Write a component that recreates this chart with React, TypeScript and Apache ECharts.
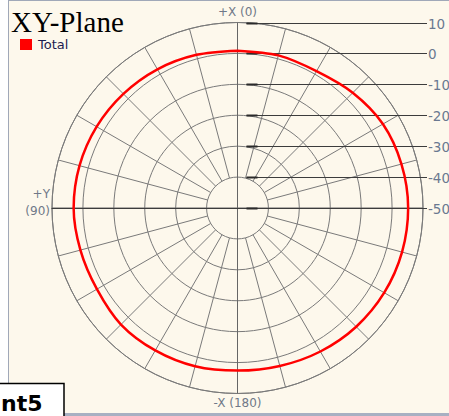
import React, { useEffect, useRef } from "react";
import * as echarts from "echarts";

// ---- data ----
const angles = [0, 15, 30, 45, 60, 75, 90, 105, 120, 135, 150, 165, 180, 195, 210, 225, 240, 255, 270, 285, 300, 315, 330, 345];
const totalDb = [0.9, 1.3, 1.8, 2.2, 2.6, 2.9, 3.0, 2.6, 2.5, 3.3, 3.2, 3.0, 2.6, 2.9, 3.6, 4.3, 4.8, 5.1, 5.2, 4.9, 4.3, 2.7, 1.1, 1.1];
const ringValues = [10, 0, -10, -20, -30, -40, -50];
const ringLabels = ["10", "0", "-10", "-20", "-30", "-40", "-50"];
const spokeAngles = [0, 15, 30, 45, 60, 75, 90, 105, 120, 135, 150, 165, 180, 195, 210, 225, 240, 255, 270, 285, 300, 315, 330, 345];
const rMin = -50;
const rMax = 10;
const rInner = -40;

export default function App() {
  const ref = useRef<HTMLDivElement>(null);
  useEffect(() => {
    if (!ref.current) return;
    const chart = echarts.init(ref.current, undefined, { renderer: "svg" });
    const lineData = angles.map((a, i) => [totalDb[i], a]);
    lineData.push([totalDb[0], 360]);
    const option: any = {
      animation: false,
      backgroundColor: "transparent",
      title: {
        text: "XY-Plane",
        left: 11,
        top: 9,
        padding: 0,
        textStyle: { fontFamily: "Liberation Serif", fontSize: 29, lineHeight: 26, fontWeight: "normal", color: "#000" },
      },
      legend: {
        data: ["Total"],
        left: 20,
        top: 38,
        icon: "rect",
        itemWidth: 12,
        itemHeight: 11,
        itemGap: 5,
        padding: 0,
        textStyle: { fontFamily: "DejaVu Sans", fontSize: 13, color: "#1c1c50", padding: [0, 0, 0, 1] },
      },
      polar: { center: [237.5, 208], radius: 185.5 },
      angleAxis: {
        type: "value",
        min: 0,
        max: 360,
        interval: 15,
        startAngle: 90,
        clockwise: false,
        axisLine: { show: true, lineStyle: { color: "#7a7a7a", width: 1 } },
        axisTick: { show: false },
        axisLabel: { show: false },
        splitLine: { show: false },
      },
      radiusAxis: {
        type: "value",
        min: rMin,
        max: rMax,
        interval: 10,
        axisLine: { show: false },
        axisTick: { show: false },
        axisLabel: { show: false },
        splitLine: { show: true, lineStyle: { color: "#7a7a7a", width: 1 } },
      },
      series: [
        {
          type: "custom",
          coordinateSystem: "polar",
          silent: true,
          data: spokeAngles.map((a) => [a % 90 === 0 ? rMin : rInner, a]),
          renderItem: (params: any, api: any) => {
            const r0 = api.value(0);
            const a = api.value(1);
            const p1 = api.coord([r0, a]);
            const p2 = api.coord([rMax, a]);
            const main = a % 90 === 0;
            return {
              type: "line",
              shape: { x1: p1[0], y1: p1[1], x2: p2[0], y2: p2[1] },
              style: { stroke: main ? "#666" : "#7a7a7a", lineWidth: 1 },
            };
          },
        },
        {
          type: "custom",
          coordinateSystem: "polar",
          silent: true,
          data: ringValues.map((v, i) => [v, 0, i]),
          renderItem: (params: any, api: any) => {
            const v = api.value(0);
            const i = api.value(2);
            const p = api.coord([v, 0]);
            const c = api.coord([rMin, 0]);
            const x0 = c[0] + 9;
            const x1 = c[0] + 189.5;
            const y = Math.round(p[1]) + 0.5;
            return {
              type: "group",
              children: [
                { type: "line", shape: { x1: v === rMin ? c[0] - 186 : x0, y1: y, x2: x1, y2: y }, style: { stroke: "#3c3c3c", lineWidth: 1 } },
                { type: "line", shape: { x1: x0, y1: y, x2: x0 + 11, y2: y }, style: { stroke: "#2a2a2a", lineWidth: 2 } },
                {
                  type: "text",
                  x: x1 + 1,
                  y: y,
                  style: { text: ringLabels[i], fill: "#6a7890", fontSize: 13.5, fontFamily: "DejaVu Sans", verticalAlign: "middle", align: "left" },
                },
              ],
            };
          },
        },
        {
          name: "Total",
          type: "line",
          coordinateSystem: "polar",
          data: lineData,
          showSymbol: false,
          smooth: 0.3,
          itemStyle: { color: "#ff0000" },
          lineStyle: { color: "#ff0000", width: 2.5 },
          z: 5,
        },
      ],
      graphic: [
        { type: "text", x: 237.5, y: 6, style: { text: "+X (0)", fill: "#707888", fontSize: 12, fontFamily: "DejaVu Sans", align: "center" } },
        { type: "text", x: 237.5, y: 397, style: { text: "-X (180)", fill: "#707888", fontSize: 12, fontFamily: "DejaVu Sans", align: "center" } },
        { type: "text", x: 50, y: 188, style: { text: "+Y", fill: "#707888", fontSize: 12, fontFamily: "DejaVu Sans", align: "right" } },
        { type: "text", x: 50, y: 205, style: { text: "(90)", fill: "#707888", fontSize: 12, fontFamily: "DejaVu Sans", align: "right" } },
        {
          type: "rect",
          z: 100,
          shape: { x: -2, y: 383.5, width: 66, height: 36 },
          style: { fill: "#ffffff", stroke: "#000", lineWidth: 1.5 },
        },
        {
          type: "text",
          z: 101,
          x: 1,
          y: 392,
          style: { text: "nt5", fill: "#000", fontSize: 22, fontWeight: "bold", fontFamily: "DejaVu Sans" },
        },
      ],
    };
    chart.setOption(option);
    return () => chart.dispose();
  }, []);
  return (
    <div style={{ position: "fixed", left: 0, top: 0, width: 449, height: 416, background: "#ffffff", overflow: "hidden" }}>
      <div
        style={{
          position: "absolute",
          left: 8,
          top: 0,
          width: 441,
          height: 412,
          background: "#fdf8ec",
          borderTop: "1px solid #a0a8b8",
          borderLeft: "1px solid #a0a8b8",
          borderBottom: "3px solid #a8b0c2",
          boxSizing: "content-box",
        }}
      />
      <div ref={ref} style={{ position: "absolute", left: 0, top: 0, width: 449, height: 416 }} />
    </div>
  );
}
